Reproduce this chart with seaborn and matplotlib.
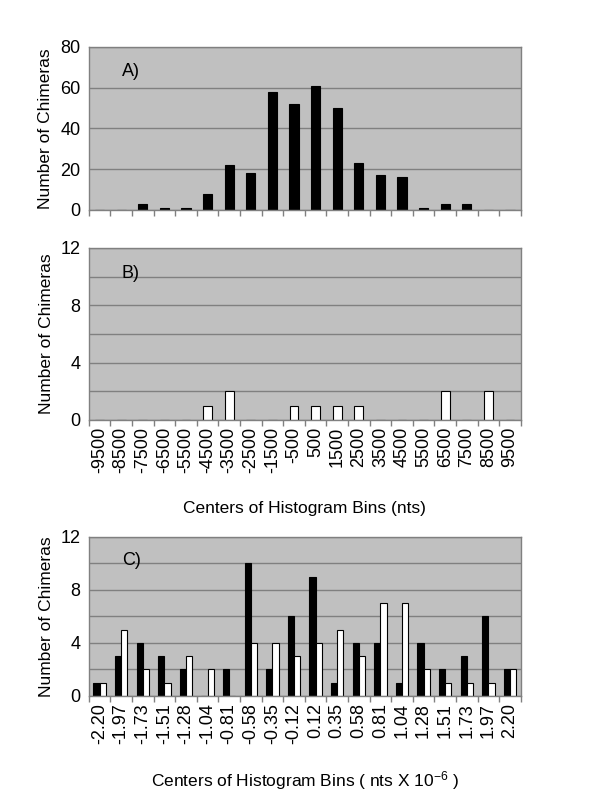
import numpy as np
import pandas as pd
import matplotlib
matplotlib.use('Agg')
import matplotlib.pyplot as plt
import seaborn as sns

sns.set_theme(style='white')
plt.rcParams['font.family'] = ['Liberation Sans', 'DejaVu Sans']
plt.rcParams['mathtext.default'] = 'regular'
plt.rcParams['text.color'] = 'black'
plt.rcParams['axes.labelcolor'] = 'black'
plt.rcParams['axes.unicode_minus'] = False

# data
bins_nts = ['-9500', '-8500', '-7500', '-6500', '-5500', '-4500', '-3500', '-2500', '-1500', '-500',
            '500', '1500', '2500', '3500', '4500', '5500', '6500', '7500', '8500', '9500']
counts_a = [0, 0, 3, 1, 1, 8, 22, 18, 58, 52, 61, 50, 23, 17, 16, 1, 3, 3, 0, 0]
counts_b = [0, 0, 0, 0, 0, 1, 2, 0, 0, 1, 1, 1, 1, 0, 0, 0, 2, 0, 2, 0]

bins_c = ['-2.20', '-1.97', '-1.73', '-1.51', '-1.28', '-1.04', '-0.81', '-0.58', '-0.35', '-0.12',
          '0.12', '0.35', '0.58', '0.81', '1.04', '1.28', '1.51', '1.73', '1.97', '2.20']
counts_c_black = [1, 3, 4, 3, 2, 0, 2, 10, 2, 6, 9, 1, 4, 4, 1, 4, 2, 3, 6, 2]
counts_c_white = [1, 5, 2, 1, 3, 2, 0, 4, 4, 3, 4, 5, 3, 7, 7, 2, 1, 1, 1, 2]

BG = '#c0c0c0'
GRID = '#808080'
TICK_FS = 13
LABEL_FS = 12.5

fig = plt.figure(figsize=(6, 8), dpi=100)
ax_a = fig.add_axes([0.148, 0.7375, 0.72, 0.204])
ax_b = fig.add_axes([0.148, 0.475, 0.72, 0.215])
ax_c = fig.add_axes([0.148, 0.13, 0.72, 0.199])


def style_axis(ax, ymax, major, labels_every, n):
    ax.set_facecolor(BG)
    ax.set_ylim(0, ymax)
    ax.set_xlim(-0.5, n - 0.5)
    ax.set_yticks(np.arange(0, ymax + 0.1, major))
    ax.set_yticklabels([str(int(v)) if v % labels_every == 0 else '' for v in np.arange(0, ymax + 0.1, major)])
    ax.yaxis.grid(True, color=GRID, linewidth=1)
    ax.set_axisbelow(True)
    for s in ax.spines.values():
        s.set_color(GRID)
        s.set_linewidth(1)
    ax.tick_params(axis='y', length=0, labelsize=TICK_FS, pad=6, labelcolor='black')
    ax.set_xticks(np.arange(n + 1) - 0.5, minor=True)
    ax.tick_params(axis='x', which='minor', length=4, color=GRID, width=1, bottom=True)
    ax.tick_params(axis='x', which='major', length=0, labelsize=TICK_FS, pad=5, labelcolor='black')
    ax.set_ylabel('Number of Chimeras', fontsize=LABEL_FS, labelpad=5)
    ax.set_xlabel('')


# panel A
df_a = pd.DataFrame({'bin': bins_nts, 'count': counts_a})
sns.barplot(data=df_a, x='bin', y='count', color='black', width=0.43, saturation=1,
            edgecolor='black', linewidth=0.8, ax=ax_a)
style_axis(ax_a, 80, 20, 20, len(bins_nts))
ax_a.set_xticklabels([])
ax_a.text(0.076, 0.85, 'A)', transform=ax_a.transAxes, fontsize=TICK_FS, va='center')

# panel B
df_b = pd.DataFrame({'bin': bins_nts, 'count': counts_b})
sns.barplot(data=df_b, x='bin', y='count', color='white', width=0.4, saturation=1,
            edgecolor='black', linewidth=0.8, ax=ax_b)
style_axis(ax_b, 12, 2, 4, len(bins_nts))
ax_b.set_xticks(range(len(bins_nts)))
ax_b.set_xticklabels(bins_nts, rotation=90, fontsize=TICK_FS)
ax_b.set_xlabel('Centers of Histogram Bins (nts)', fontsize=LABEL_FS, labelpad=20)
ax_b.text(0.076, 0.85, 'B)', transform=ax_b.transAxes, fontsize=TICK_FS, va='center')

# panel C
df_c = pd.DataFrame({
    'bin': bins_c * 2,
    'count': counts_c_black + counts_c_white,
    'series': ['black'] * len(bins_c) + ['white'] * len(bins_c),
})
sns.barplot(data=df_c, x='bin', y='count', hue='series', palette={'black': 'black', 'white': 'white'},
            width=0.58, saturation=1, edgecolor='black', linewidth=0.8, legend=False, ax=ax_c)
style_axis(ax_c, 12, 2, 4, len(bins_c))
ax_c.set_xticks(range(len(bins_c)))
ax_c.set_xticklabels(bins_c, rotation=90, fontsize=TICK_FS)
ax_c.set_xlabel('Centers of Histogram Bins ( nts X 10$^{-6}$ )', fontsize=LABEL_FS, labelpad=18)
ax_c.text(0.076, 0.85, 'C)', transform=ax_c.transAxes, fontsize=TICK_FS, va='center')

fig.savefig('out.png', dpi=100, facecolor='white')
